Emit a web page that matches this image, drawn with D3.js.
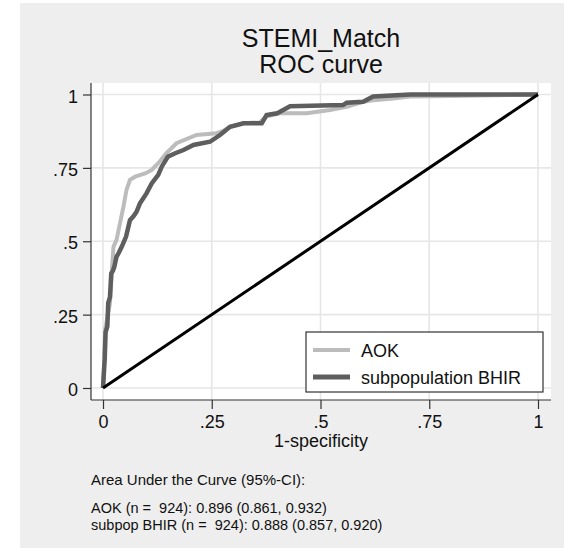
<!DOCTYPE html>
<html>
<head>
<meta charset="utf-8">
<script src="https://cdn.jsdelivr.net/npm/d3@7/dist/d3.min.js"></script>
<style>
  html, body { margin: 0; padding: 0; background: #ffffff; }
  svg { display: block; }
  text { font-family: "Liberation Sans", Arial, sans-serif; fill: #111; }
</style>
</head>
<body>
<svg id="chart" width="564" height="548"></svg>
<script>
// ---- data ----
const titleLines = ["STEMI_Match", "ROC curve"];
const xTicks = [0, 0.25, 0.5, 0.75, 1];
const xTickLabels = ["0", ".25", ".5", ".75", "1"];
const yTicks = [0, 0.25, 0.5, 0.75, 1];
const yTickLabels = ["0", ".25", ".5", ".75", "1"];
const xTitle = "1-specificity";
const seriesNames = ["AOK", "subpopulation BHIR"];
const aokFpr = [0, 0.003, 0.005, 0.010, 0.016, 0.020, 0.024, 0.031, 0.039, 0.047, 0.054, 0.062, 0.074, 0.097, 0.112, 0.127, 0.146, 0.169, 0.215, 0.261, 0.275, 0.292, 0.323, 0.360, 0.375, 0.407, 0.468, 0.522, 0.560, 0.598, 0.621, 0.667, 0.706, 0.800, 1];
const aokTpr = [0, 0.100, 0.200, 0.240, 0.289, 0.390, 0.481, 0.504, 0.561, 0.618, 0.675, 0.709, 0.720, 0.731, 0.743, 0.766, 0.800, 0.834, 0.862, 0.868, 0.875, 0.890, 0.902, 0.905, 0.925, 0.936, 0.936, 0.947, 0.958, 0.975, 0.980, 0.986, 0.993, 0.995, 1];
const bhirFpr = [0, 0.004, 0.006, 0.010, 0.012, 0.016, 0.019, 0.023, 0.026, 0.031, 0.036, 0.043, 0.053, 0.062, 0.070, 0.077, 0.085, 0.100, 0.112, 0.127, 0.135, 0.149, 0.166, 0.185, 0.208, 0.246, 0.269, 0.292, 0.323, 0.365, 0.376, 0.400, 0.407, 0.430, 0.552, 0.560, 0.598, 0.621, 0.706, 1];
const bhirTpr = [0, 0.100, 0.190, 0.210, 0.290, 0.310, 0.390, 0.400, 0.413, 0.447, 0.460, 0.481, 0.516, 0.572, 0.585, 0.600, 0.629, 0.663, 0.697, 0.726, 0.754, 0.788, 0.800, 0.811, 0.828, 0.839, 0.862, 0.890, 0.902, 0.902, 0.930, 0.936, 0.941, 0.960, 0.964, 0.972, 0.975, 0.993, 1.000, 1];
const refFpr = [0, 1];
const refTpr = [0, 1];
const noteLines = [
  "Area Under the Curve (95%-CI):",
  "",
  "AOK (n =  924): 0.896 (0.861, 0.932)",
  "subpop BHIR (n =  924): 0.888 (0.857, 0.920)"
];

// ---- layout ----
const svg = d3.select("#chart");
const plot = { left: 91, right: 551, top: 83, bottom: 400 };
const x = d3.scaleLinear().domain([0, 1]).range([103, 538]);
const y = d3.scaleLinear().domain([0, 1]).range([388, 94.5]);

// outer gray panel
svg.append("rect").attr("x", 20).attr("y", 3).attr("width", 544).attr("height", 545).attr("fill", "#eeeeee");
// plot region
svg.append("rect").attr("x", plot.left).attr("y", plot.top)
  .attr("width", plot.right - plot.left).attr("height", plot.bottom - plot.top).attr("fill", "#ffffff");

// gridlines
const grid = svg.append("g");
grid.selectAll("line.gx").data(xTicks).enter().append("line")
  .attr("x1", d => x(d)).attr("x2", d => x(d)).attr("y1", plot.top).attr("y2", plot.bottom)
  .attr("stroke", "#e6e6e6").attr("stroke-width", 1.6);
grid.selectAll("line.gy").data(yTicks).enter().append("line")
  .attr("y1", d => y(d)).attr("y2", d => y(d)).attr("x1", plot.left).attr("x2", plot.right)
  .attr("stroke", "#e6e6e6").attr("stroke-width", 1.6);

// curves
const line = d3.line().x(d => x(d[0])).y(d => y(d[1]));
const aok = aokFpr.map((v, i) => [v, aokTpr[i]]);
const bhir = bhirFpr.map((v, i) => [v, bhirTpr[i]]);
const ref = refFpr.map((v, i) => [v, refTpr[i]]);
svg.append("path").datum(aok).attr("d", line).attr("fill", "none")
  .attr("stroke", "#bcbcbc").attr("stroke-width", 4).attr("stroke-linejoin", "miter");
svg.append("path").datum(bhir).attr("d", line).attr("fill", "none")
  .attr("stroke", "#5e5e5e").attr("stroke-width", 4.5).attr("stroke-linejoin", "miter");
svg.append("path").datum(ref).attr("d", line).attr("fill", "none")
  .attr("stroke", "#000000").attr("stroke-width", 3);

// axes
const xAxis = d3.axisBottom(x).tickValues(xTicks).tickFormat((d, i) => xTickLabels[i]).tickSize(9).tickPadding(5);
const gx = svg.append("g").attr("transform", `translate(0,${plot.bottom})`).call(xAxis);
gx.select(".domain").remove();
gx.append("line").attr("x1", plot.left).attr("x2", plot.right).attr("y1", 0).attr("y2", 0)
  .attr("stroke", "#333").attr("stroke-width", 1.2);
gx.selectAll(".tick line").attr("stroke", "#333").attr("stroke-width", 1.2);
gx.selectAll(".tick text").attr("font-size", 18).attr("fill", "#111")
  .attr("font-family", "Liberation Sans, Arial, sans-serif").attr("dy", null).attr("y", 28);

const yAxis = d3.axisLeft(y).tickValues(yTicks).tickFormat((d, i) => yTickLabels[i]).tickSize(8).tickPadding(5);
const gy = svg.append("g").attr("transform", `translate(${plot.left},0)`).call(yAxis);
gy.select(".domain").remove();
gy.append("line").attr("x1", 0).attr("x2", 0).attr("y1", plot.top).attr("y2", plot.bottom)
  .attr("stroke", "#333").attr("stroke-width", 1.2);
gy.selectAll(".tick line").attr("stroke", "#333").attr("stroke-width", 1.2);
gy.selectAll(".tick text").attr("font-size", 18).attr("fill", "#111")
  .attr("font-family", "Liberation Sans, Arial, sans-serif").attr("x", -13).attr("dy", "0.42em");

// axis title
svg.append("text").attr("x", (plot.left + plot.right) / 2).attr("y", 447)
  .attr("text-anchor", "middle").attr("font-size", 18).text(xTitle);

// title
svg.selectAll("text.title").data(titleLines).enter().append("text")
  .attr("class", "title").attr("x", (plot.left + plot.right) / 2).attr("y", (d, i) => 47 + i * 26)
  .attr("text-anchor", "middle").attr("font-size", 25).text(d => d);

// legend
const lg = svg.append("g");
lg.append("rect").attr("x", 306).attr("y", 332).attr("width", 237).attr("height", 60)
  .attr("fill", "#ffffff").attr("stroke", "#333").attr("stroke-width", 1.2);
const legColors = ["#bcbcbc", "#5e5e5e"];
const legWidths = [4, 5];
seriesNames.forEach((name, i) => {
  const cy = 350 + i * 27;
  lg.append("line").attr("x1", 313).attr("x2", 350).attr("y1", cy).attr("y2", cy)
    .attr("stroke", legColors[i]).attr("stroke-width", legWidths[i]);
  lg.append("text").attr("x", 361).attr("y", cy + 6.5).attr("font-size", 18).text(name);
});

// note
noteLines.forEach((t, i) => {
  if (!t) return;
  const yy = i === 0 ? 485 : 513 + (i - 2) * 16.5;
  svg.append("text").attr("x", 91).attr("y", yy).attr("font-size", i === 0 ? 15 : 14.5)
    .attr("xml:space", "preserve").style("white-space", "pre").text(t);
});
</script>
</body>
</html>
